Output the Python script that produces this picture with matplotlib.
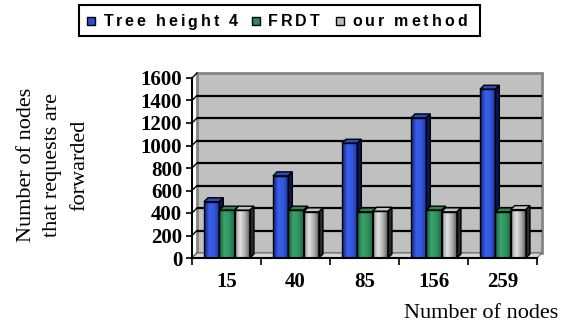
import numpy as np
import matplotlib.pyplot as plt
from matplotlib.patches import Polygon, Rectangle
from matplotlib.colors import LinearSegmentedColormap
from matplotlib.font_manager import FontProperties
from matplotlib.textpath import text_to_path

# data
categories = ["15", "40", "85", "156", "259"]
series = ["Tree height 4", "FRDT", "our method"]
tree_height_4 = [500, 730, 1020, 1245, 1500]
frdt = [425, 425, 410, 425, 410]
our_method = [425, 410, 415, 410, 430]
y_ticks = [0, 200, 400, 600, 800, 1000, 1200, 1400, 1600]

# face colours per series: front gradient (left -> right), top, side
front_cols = [
    ["#0d1f78", "#3a60ea", "#3356dc", "#1a3296"],
    ["#175c34", "#3aa36c", "#2f9460", "#1b6a3c"],
    ["#9a9a9a", "#e2e2e2", "#a8a8a8", "#4a4a4a"],
]
top_cols = ["#2a4ac0", "#2c8454", "#c4c4c4"]
side_cols = ["#0b1858", "#0f4524", "#2e2e2e"]
legend_cols = ["#2d4fd4", "#2b8a55", "#bdbdbd"]

W, H, DPI = 565, 327, 100
fig = plt.figure(figsize=(W / DPI, H / DPI), dpi=DPI)

# front frame of the plot (pixels): x 192..537, y 78..258
ax = fig.add_axes([192 / W, (H - 258) / H, 345 / W, 180 / H])
ax.set_xlim(0, len(categories))
ax.set_ylim(0, 1600)

px_x = 345 / len(categories)   # pixels per category
px_y = 180 / 1600              # pixels per unit

# depth offsets in data units
wdx, wdy = 5 / px_x, 5 / px_y   # back wall
bdx, bdy = 4 / px_x, 4 / px_y   # bar depth

n = len(categories)

# floor
ax.add_patch(Polygon([(0, 0), (n, 0), (n + wdx, wdy), (wdx, wdy)], closed=True,
                     facecolor="#d6d6d6", edgecolor="#707070", lw=0.8,
                     clip_on=False, zorder=1))

# back wall
ax.add_patch(Rectangle((wdx, wdy), n, 1600, facecolor="#c0c0c0",
                       edgecolor="#858585", lw=2, clip_on=False, zorder=0.5))
for v in y_ticks[1:-1]:
    ax.plot([wdx, n + wdx], [v + wdy, v + wdy], color="black", lw=1.6,
            clip_on=False, zorder=0.8, solid_capstyle="butt")
for v in y_ticks:
    ax.plot([0, wdx], [v, v + wdy], color="black", lw=1,
            clip_on=False, zorder=0.8)

# bars
bar_w = 0.222
start = 0.174
values = [tree_height_4, frdt, our_method]
for i in range(n):
    for k, vals in enumerate(values):
        h = vals[i]
        x0 = i + start + k * bar_w
        x1 = x0 + bar_w
        z = 2 + k
        cmap = LinearSegmentedColormap.from_list("f%d" % k, front_cols[k])
        grad = cmap(np.linspace(0, 1, 64))[np.newaxis, :, :3]
        ax.imshow(grad, extent=(x0, x1, 0, h), aspect="auto",
                  interpolation="bilinear", zorder=z)
        ax.bar(x0, h, width=bar_w, align="edge", facecolor="none",
               edgecolor="black", lw=1, zorder=z + 0.1)
        ax.add_patch(Polygon([(x0, h), (x1, h), (x1 + bdx, h + bdy),
                              (x0 + bdx, h + bdy)], closed=True,
                             facecolor=top_cols[k], edgecolor="black", lw=1,
                             zorder=z + 0.05))
        ax.add_patch(Polygon([(x1, 0), (x1 + bdx, bdy), (x1 + bdx, h + bdy),
                              (x1, h)], closed=True, facecolor=side_cols[k],
                             edgecolor="black", lw=1, zorder=z + 0.05))

ax.set_xlim(0, n)
ax.set_ylim(0, 1600)

# axes
for s in ["top", "right"]:
    ax.spines[s].set_visible(False)
for s in ["left", "bottom"]:
    ax.spines[s].set_linewidth(1.5)
    ax.spines[s].set_zorder(6)
ax.set_facecolor("none")

tick_font = {"family": "Liberation Serif", "weight": "bold", "size": 15}
ax.set_yticks(y_ticks)
ax.set_yticklabels([str(v) for v in y_ticks], fontdict=tick_font)
ax.tick_params(axis="y", direction="out", length=4, width=1.2, pad=3)

ax.set_xticks(range(n + 1))
ax.set_xticklabels([])
ax.tick_params(axis="x", which="major", direction="out", length=5, width=1.2)
ax.set_xticks([i + 0.5 for i in range(n)], minor=True)
ax.set_xticklabels(categories, minor=True, fontdict=tick_font)
ax.tick_params(axis="x", which="minor", length=0, pad=10)


def fx(x):
    return x / W


def fy(y):
    return 1 - y / H


# axis titles
fig.text(fx(53), fy(165), "Number of nodes\nthat requests are\nforwarded",
         rotation=90, ha="center", va="center", multialignment="center",
         family="Liberation Serif", fontsize=16, linespacing=1.55)
fig.text(fx(481), fy(313), "Number of nodes", ha="center", va="center",
         family="Liberation Serif", fontsize=16)

# legend, letter-spaced bold sans
leg_fp = FontProperties(family="Liberation Sans", weight="bold", size=11.5)
spacing = 3.0


def advance(s):
    w_bar = text_to_path.get_text_width_height_descent("|", leg_fp, ismath=False)[0]
    w = text_to_path.get_text_width_height_descent(s + "|", leg_fp, ismath=False)[0]
    return (w - w_bar) * DPI / 72


def spaced_width(s):
    return advance(s) + spacing * (len(s) - 1)


def spaced_text(x, y, s):
    for i, ch in enumerate(s):
        fig.text(fx(x + advance(s[:i]) + spacing * i), fy(y), ch,
                 fontproperties=leg_fp, ha="left", va="center")


legend_y = 21
text_starts = [238 - spaced_width(series[0]), 268, 352]
for k, name in enumerate(series):
    sx = text_starts[k] - 16
    fig.patches.append(Rectangle((fx(sx), fy(legend_y + 4)), 8 / W, 8 / H,
                                 transform=fig.transFigure,
                                 facecolor=legend_cols[k], edgecolor="black",
                                 lw=1))
    spaced_text(text_starts[k], legend_y + 1, name)

box_left = text_starts[0] - 16 - 8
fig.patches.append(Rectangle((fx(box_left), fy(36)), (480 - box_left) / W,
                             31 / H, transform=fig.transFigure,
                             facecolor="none", edgecolor="black", lw=1.5))

fig.savefig("out.png", dpi=DPI)
